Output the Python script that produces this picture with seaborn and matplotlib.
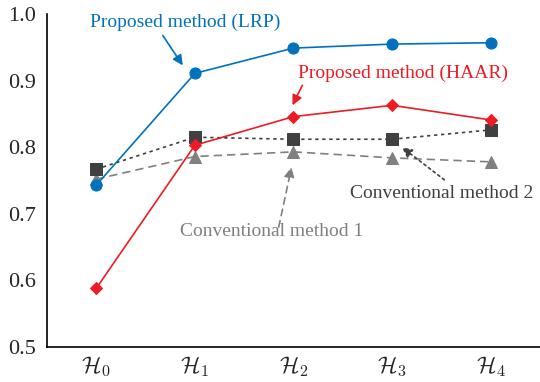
import matplotlib
matplotlib.use("Agg")
import matplotlib.pyplot as plt
import seaborn as sns
import numpy as np
import pandas as pd

categories = [r"$\mathcal{H}_0$", r"$\mathcal{H}_1$", r"$\mathcal{H}_2$", r"$\mathcal{H}_3$", r"$\mathcal{H}_4$"]
lrp = [0.743, 0.911, 0.949, 0.955, 0.957]
haar = [0.588, 0.803, 0.846, 0.863, 0.841]
conv2 = [0.767, 0.815, 0.812, 0.812, 0.826]
conv1 = [0.752, 0.786, 0.793, 0.784, 0.778]
yticks = [0.5, 0.6, 0.7, 0.8, 0.9, 1.0]

sns.set_style("white")
plt.rcParams['font.family'] = ['Liberation Serif', 'DejaVu Serif']
plt.rcParams['mathtext.fontset'] = 'cm'

fig = plt.figure(figsize=(5.4, 3.82), dpi=100)
ax = fig.add_axes([0.087, 0.092, 0.913, 0.871])

xpos = np.arange(len(categories))
c_blue = "#0072BD"
c_red = "#ED1C24"
c_dk = "#404040"
c_gr = "#808080"

sns.lineplot(x=xpos, y=conv1, ax=ax, color=c_gr, lw=1.2, linestyle=(0, (5, 3)),
             marker='^', markersize=9, markeredgecolor=c_gr, markerfacecolor=c_gr)
sns.lineplot(x=xpos, y=conv2, ax=ax, color=c_dk, lw=1.2, linestyle=(0, (2, 2.2)),
             marker='s', markersize=8.5, markeredgecolor=c_dk, markerfacecolor=c_dk)
sns.lineplot(x=xpos, y=haar, ax=ax, color=c_red, lw=1.2,
             marker='D', markersize=6.5, markeredgecolor=c_red, markerfacecolor=c_red)
sns.lineplot(x=xpos, y=lrp, ax=ax, color=c_blue, lw=1.2,
             marker='o', markersize=8, markeredgecolor=c_blue, markerfacecolor=c_blue)

ax.set_xlim(-0.5, 4.5)
ax.set_ylim(0.5, 1.0)
ax.set_yticks(yticks)
ax.set_yticklabels([f"{v:.1f}" for v in yticks], fontsize=16)
ax.set_xticks(np.arange(-0.5, 4.6, 1.0))
ax.set_xticklabels([])
ax.set_xticks(xpos, minor=True)
ax.set_xticklabels(categories, minor=True, fontsize=16.5)
ax.tick_params(axis='x', which='major', direction='out', length=5, width=1, color='black')
ax.tick_params(axis='x', which='minor', length=0, pad=5)
ax.tick_params(axis='y', direction='out', length=5, width=1, color='black', pad=3)

for s in ['top', 'right']:
    ax.spines[s].set_visible(False)
for s in ['left', 'bottom']:
    ax.spines[s].set_color('black')
    ax.spines[s].set_linewidth(1.2)

fs = 14

def arrow(tip, start, color, ls='-'):
    ax.annotate("", xy=tip, xytext=start,
                arrowprops=dict(arrowstyle='-|>', color=color, lw=1.2, linestyle=ls,
                                mutation_scale=15, shrinkA=0, shrinkB=0))

ax.text(0.897, 0.987, "Proposed method (LRP)", color=c_blue, fontsize=fs, ha='center', va='center')
arrow((0.877, 0.923), (0.674, 0.968), c_blue)

ax.text(3.11, 0.911, "Proposed method (HAAR)", color=c_red, fontsize=fs, ha='center', va='center')
arrow((1.99, 0.863), (2.09, 0.893), c_red)

ax.text(3.50, 0.730, "Conventional method 2", color=c_dk, fontsize=fs, ha='center', va='center')
arrow((3.10, 0.800), (3.53, 0.751), c_dk, (0, (1.5, 2)))

ax.text(1.78, 0.673, "Conventional method 1", color=c_gr, fontsize=fs, ha='center', va='center')
arrow((1.98, 0.770), (1.85, 0.680), c_gr, (0, (4, 3)))

fig.savefig("out.png", dpi=100)
